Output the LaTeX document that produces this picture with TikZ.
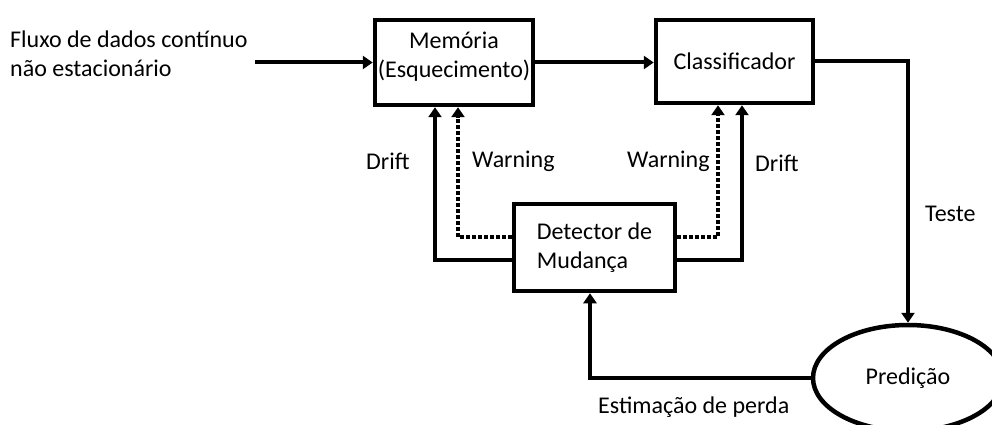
\documentclass[tikz,border=0pt]{standalone}
\usepackage{fontspec}
\setmainfont{Carlito}
\usetikzlibrary{arrows.meta,shapes.geometric}
\begin{document}
\begin{tikzpicture}[x=1pt,y=-1pt,
  every node/.style={font=\fontsize{24}{29}\selectfont},
  box/.style={draw,line width=4.5pt,rectangle,inner sep=0pt,align=center},
  arr/.style={line width=4pt,-{Triangle[length=10pt,width=13pt]}},
  warn/.style={arr,dash pattern=on 4pt off 2pt},
  lbl/.style={inner sep=0pt,anchor=west}]
\useasboundingbox (0,0) rectangle (992,425);
\node[box,minimum width=158pt,minimum height=85pt,text depth=15pt] (mem) at (454,62.5) {Memória\\(Esquecimento)};
\node[box,minimum width=157pt,minimum height=83pt] (cls) at (734.5,61.5) {Classificador};
\node[box,minimum width=161pt,minimum height=87pt,align=left] (det) at (594.5,247.5) {Detector de\\Mudança};
\node[draw,line width=4.5pt,ellipse,minimum width=190pt,minimum height=106pt,inner sep=0pt] (pred) at (908,378) {Predição};
\node[lbl,align=left] (flux) at (10,54) {Fluxo de dados contínuo\\não estacionário};
\coordinate (in) at (255,62.5);
\draw[arr] (in) -- (mem.west);
\draw[arr] (mem.east) -- (mem.east -| cls.west);
\draw[arr] ([yshift=-12.5pt]det.west) -| ([xshift=-19pt]mem.south);
\draw[warn] ([yshift=10.5pt]det.west) -| ([xshift=4pt]mem.south);
\draw[warn] ([yshift=10.5pt]det.east) -| ([xshift=-16.5pt]cls.south);
\draw[arr] ([yshift=-12.5pt]det.east) -| ([xshift=7.5pt]cls.south);
\draw[arr] (cls.east) -| (pred.north);
\draw[arr] (pred.west) -| ([xshift=-4.5pt]det.south);
\node[lbl] (ldl) at (366,161) {Drift};
\node[lbl] (lwl) at (472,161) {Warning};
\node[lbl] (lwr) at (627,161) {Warning};
\node[lbl] (ldr) at (755,163) {Drift};
\node[lbl] (lte) at (925,214) {Teste};
\node[lbl] (lep) at (598,407) {Estimação de perda};
\end{tikzpicture}
\end{document}
